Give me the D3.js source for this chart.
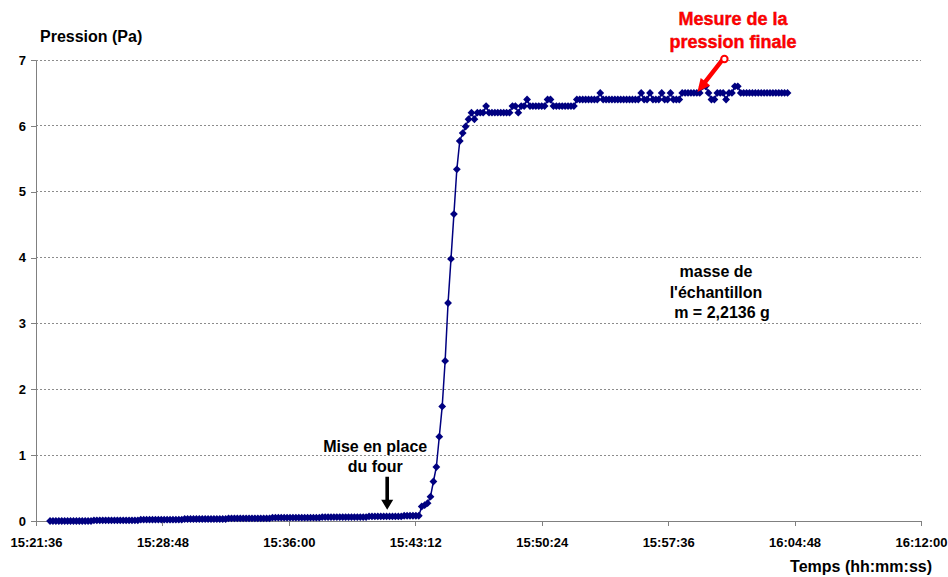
<!DOCTYPE html>
<html>
<head>
<meta charset="utf-8">
<script src="https://cdn.jsdelivr.net/npm/d3@7"></script>
<style>
  html, body { margin: 0; padding: 0; background: #fff; }
  svg { display: block; }
  text { font-family: "Liberation Sans", Arial, sans-serif; font-weight: bold; }
</style>
</head>
<body>
<svg id="chart" width="948" height="577"></svg>
<script>
// ---------------- data ----------------
const xTickLabels = ["15:21:36", "15:28:48", "15:36:00", "15:43:12", "15:50:24", "15:57:36", "16:04:48", "16:12:00"];
const yTickValues = [0, 1, 2, 3, 4, 5, 6, 7];
const startTime = "15:22:24";      // first sample
const sampleStep = 10;             // seconds between samples
const pressure = [
  0, 0, 0, 0, 0, 0, 0, 0, 0, 0,
  0, 0, 0, 0, 0, 0.01, 0.01, 0.01, 0.01, 0.01,
  0.01, 0.01, 0.01, 0.01, 0.01, 0.01, 0.01, 0.01, 0.01, 0.01,
  0.01, 0.02, 0.02, 0.02, 0.02, 0.02, 0.02, 0.02, 0.02, 0.02,
  0.02, 0.02, 0.02, 0.02, 0.02, 0.02, 0.03, 0.03, 0.03, 0.03,
  0.03, 0.03, 0.03, 0.03, 0.03, 0.03, 0.03, 0.03, 0.03, 0.03,
  0.03, 0.04, 0.04, 0.04, 0.04, 0.04, 0.04, 0.04, 0.04, 0.04,
  0.04, 0.04, 0.04, 0.04, 0.04, 0.04, 0.05, 0.05, 0.05, 0.05,
  0.05, 0.05, 0.05, 0.05, 0.05, 0.05, 0.05, 0.05, 0.05, 0.05,
  0.05, 0.05, 0.05, 0.06, 0.06, 0.06, 0.06, 0.06, 0.06, 0.06,
  0.06, 0.06, 0.06, 0.06, 0.06, 0.06, 0.06, 0.06, 0.06, 0.07,
  0.07, 0.07, 0.07, 0.07, 0.07, 0.07, 0.07, 0.07, 0.07, 0.07,
  0.07, 0.08, 0.08, 0.08, 0.08, 0.08, 0.08, 0.22, 0.24, 0.27,
  0.37, 0.60, 0.82, 1.28, 1.74, 2.43, 3.31, 3.98, 4.66, 5.34,
  5.77, 5.89, 5.99, 6.10, 6.20, 6.10, 6.20, 6.20, 6.20, 6.30,
  6.2, 6.2, 6.2, 6.2, 6.2, 6.2, 6.2, 6.2, 6.3, 6.3,
  6.2, 6.3, 6.3, 6.4, 6.3, 6.3, 6.3, 6.3, 6.3, 6.3,
  6.4, 6.4, 6.3, 6.3, 6.3, 6.3, 6.3, 6.3, 6.3, 6.3,
  6.4, 6.4, 6.4, 6.4, 6.4, 6.4, 6.4, 6.4, 6.5, 6.4,
  6.4, 6.4, 6.4, 6.4, 6.4, 6.4, 6.4, 6.4, 6.4, 6.4,
  6.4, 6.4, 6.5, 6.4, 6.4, 6.5, 6.4, 6.4, 6.4, 6.5,
  6.4, 6.4, 6.5, 6.4, 6.4, 6.4, 6.5, 6.5, 6.5, 6.5,
  6.5, 6.5, 6.5, 6.6, 6.6, 6.5, 6.4, 6.4, 6.5, 6.5,
  6.5, 6.4, 6.5, 6.5, 6.6, 6.6, 6.5, 6.5, 6.5, 6.5,
  6.5, 6.5, 6.5, 6.5, 6.5, 6.5, 6.5, 6.5, 6.5, 6.5,
  6.5, 6.5, 6.5
];
const furnaceTime = "15:41:36";   // "Mise en place du four"
const finalTime = "15:59:16";     // "Mesure de la pression finale"
const finalValue = 6.5;

// ---------------- helpers ----------------
const toSec = s => { const [h, m, x] = s.split(":").map(Number); return h * 3600 + m * 60 + x; };
const t0 = toSec(startTime);
const data = pressure.map((v, i) => ({ t: t0 + i * sampleStep, v }));

const svg = d3.select("#chart");
const x = d3.scaleLinear()
  .domain([toSec(xTickLabels[0]), toSec(xTickLabels[xTickLabels.length - 1])])
  .range([36, 921]);
const y = d3.scaleLinear().domain([0, 7]).range([521, 60]);

const axisGrey = "#808080";
const navy = "#000080";

// gridlines
svg.append("g").selectAll("line")
  .data(yTickValues.filter(d => d > 0))
  .join("line")
  .attr("x1", x.range()[0]).attr("x2", x.range()[1])
  .attr("y1", d => y(d)).attr("y2", d => y(d))
  .attr("stroke", "#8c8c8c").attr("stroke-width", 1)
  .attr("stroke-dasharray", "2,2")
  .attr("shape-rendering", "crispEdges");

// x axis
const xAxis = d3.axisBottom(x)
  .tickValues(xTickLabels.map(toSec))
  .tickFormat((d, i) => xTickLabels[i])
  .tickSize(5).tickSizeOuter(0).tickPadding(12);
const gx = svg.append("g").attr("transform", `translate(0,${y(0)})`).call(xAxis);
gx.select(".domain").attr("stroke", axisGrey).attr("shape-rendering", "crispEdges");
gx.selectAll(".tick line").attr("stroke", axisGrey).attr("shape-rendering", "crispEdges");
gx.selectAll(".tick text").attr("fill", "#000").style("font-size", "13px")
  .style("font-family", '"Liberation Sans", Arial, sans-serif').style("font-weight", "bold");

// y axis
const yAxis = d3.axisLeft(y)
  .tickValues(yTickValues)
  .tickFormat(d3.format("d"))
  .tickSize(5).tickSizeOuter(0).tickPadding(5);
const gy = svg.append("g").attr("transform", `translate(${x.range()[0]},0)`).call(yAxis);
gy.select(".domain").attr("stroke", axisGrey).attr("shape-rendering", "crispEdges");
gy.selectAll(".tick line").attr("stroke", axisGrey).attr("shape-rendering", "crispEdges");
gy.selectAll(".tick text").attr("fill", "#000").style("font-size", "13px")
  .style("font-family", '"Liberation Sans", Arial, sans-serif').style("font-weight", "bold");

// axis titles
svg.append("text").attr("x", 40).attr("y", 42).attr("font-size", 16).attr("fill", "#000")
  .text("Pression (Pa)");
svg.append("text").attr("x", 932).attr("y", 572).attr("font-size", 16).attr("fill", "#000")
  .attr("text-anchor", "end").text("Temps (hh:mm:ss)");

// series line
const line = d3.line().x(d => x(d.t)).y(d => y(d.v));
svg.append("path").datum(data)
  .attr("d", line).attr("fill", "none")
  .attr("stroke", navy).attr("stroke-width", 1.5);

// diamond markers
const r = 3.9;
const diamond = `M0,${-r}L${r},0L0,${r}L${-r},0Z`;
svg.append("g").selectAll("path")
  .data(data)
  .join("path")
  .attr("transform", d => `translate(${x(d.t)},${y(d.v)})`)
  .attr("d", diamond)
  .attr("fill", navy);

// annotation: sample mass
const massX = 716;
const massT = svg.append("text").attr("font-size", 16).attr("fill", "#000").attr("text-anchor", "middle");
massT.append("tspan").attr("x", massX).attr("y", 277).text("masse de");
massT.append("tspan").attr("x", massX).attr("y", 298).text("l'échantillon");
massT.append("tspan").attr("x", massX + 6).attr("y", 318).text("m = 2,2136 g");

// annotation: furnace
const fx = x(toSec(furnaceTime));
const fT = svg.append("text").attr("font-size", 16).attr("fill", "#000").attr("text-anchor", "middle");
fT.append("tspan").attr("x", fx - 12).attr("y", 452).text("Mise en place");
fT.append("tspan").attr("x", fx - 12).attr("y", 472).text("du four");
// black arrow (pointing down)
const tipY = y(0.17);
svg.append("path")
  .attr("d", `M${fx - 1.8},${tipY - 33}L${fx + 1.8},${tipY - 33}L${fx + 1.8},${tipY - 10}L${fx + 6},${tipY - 10}L${fx},${tipY}L${fx - 6},${tipY - 10}L${fx - 1.8},${tipY - 10}Z`)
  .attr("fill", "#000");

// annotation: final pressure (red)
const rT = svg.append("text").attr("font-size", 18).attr("fill", "#ff0000").attr("text-anchor", "middle")
  .style("paint-order", "stroke").attr("stroke", "#b00000").attr("stroke-width", 0.4);
rT.append("tspan").attr("x", 733).attr("y", 25).text("Mesure de la");
rT.append("tspan").attr("x", 733).attr("y", 48).text("pression finale");

// red arrow from label to final measure
const hx = x(toSec(finalTime)), hy = y(finalValue) - 1;
const tx = hx + 25, ty = hy - 32;
const dx = hx - tx, dy = hy - ty, L = Math.hypot(dx, dy);
const ux = dx / L, uy = dy / L, px = -uy, py = ux;
const hl = 13, hw = 6, sw = 2.2;
const bx = hx - ux * hl, by = hy - uy * hl;
svg.append("path")
  .attr("d", [
    `M${tx + px * sw},${ty + py * sw}`,
    `L${bx + px * sw},${by + py * sw}`,
    `L${bx + px * hw},${by + py * hw}`,
    `L${hx},${hy}`,
    `L${bx - px * hw},${by - py * hw}`,
    `L${bx - px * sw},${by - py * sw}`,
    `L${tx - px * sw},${ty - py * sw}Z`
  ].join(""))
  .attr("fill", "#ff0000");
svg.append("circle").attr("cx", tx + 2).attr("cy", ty - 1).attr("r", 3.2)
  .attr("fill", "#fff").attr("stroke", "#ff0000").attr("stroke-width", 2);
</script>
</body>
</html>
